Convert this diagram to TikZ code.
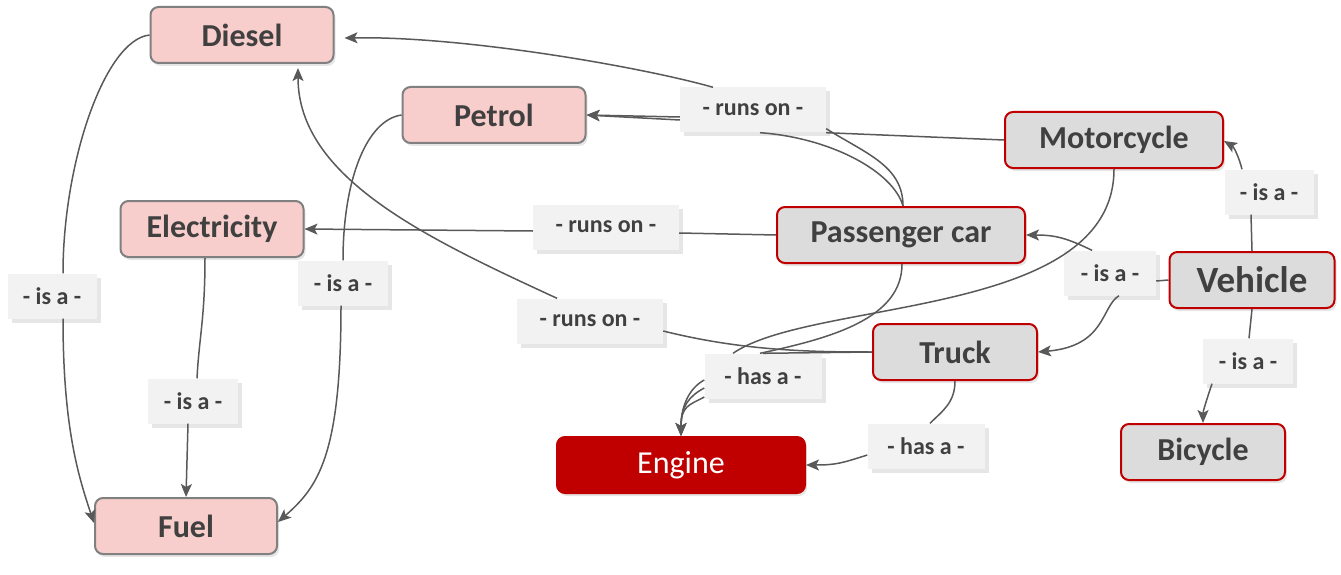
\documentclass[tikz,border=0pt]{standalone}
\usepackage{fontspec}
\setmainfont{Carlito}
\usetikzlibrary{arrows.meta,shadows}
\definecolor{pinkfill}{HTML}{F8CECC}
\definecolor{boxgray}{HTML}{DCDCDC}
\definecolor{darkred}{HTML}{C00000}
\definecolor{labelgray}{HTML}{F2F2F2}
\definecolor{linegray}{HTML}{595959}
\definecolor{textgray}{HTML}{404040}
\definecolor{bordergray}{HTML}{808080}

\begin{document}
\begin{tikzpicture}[x=1pt, y=-1pt,
    conceptbox/.style={rounded corners=8pt, line width=2pt, minimum height=56pt,
        text=textgray, font=\fontsize{32}{38}\selectfont\bfseries,
        drop shadow={shadow xshift=2pt, shadow yshift=-3pt, opacity=0.2}},
    fuelbox/.style={conceptbox, draw=bordergray, fill=pinkfill, minimum width=183pt},
    vehbox/.style={conceptbox, draw=darkred, fill=boxgray},
    relbox/.style={fill=labelgray, text=textgray, minimum height=45pt,
        font=\fontsize{24}{28}\selectfont\bfseries,
        drop shadow={shadow xshift=4pt, shadow yshift=-4pt, opacity=0.2}},
    link/.style={draw=linegray, line width=1.5pt},
    arr/.style={link, -{Stealth[length=13pt, width=11pt, inset=3pt]}}]
\useasboundingbox (0, 0) rectangle (1341, 575);

\node[fuelbox] (diesel) at (242, 35) {Diesel};
\node[fuelbox] (petrol) at (494, 115) {Petrol};
\node[fuelbox] (electricity) at (212, 229) {Electricity};
\node[fuelbox, minimum width=182pt] (fuel) at (186, 526) {Fuel};
\node[vehbox, minimum width=218pt] (motorcycle) at (1114, 140) {Motorcycle};
\node[vehbox, minimum width=248pt] (car) at (901, 235) {Passenger car};
\node[vehbox, minimum width=165pt, font=\fontsize{37}{44}\selectfont\bfseries] (vehicle) at (1252, 280) {Vehicle};
\node[vehbox, minimum width=164pt] (truck) at (955, 352) {Truck};
\node[vehbox, minimum width=164pt] (bicycle) at (1203, 452) {Bicycle};
\node[conceptbox, draw=darkred, fill=darkred, text=white, font=\fontsize{32}{38}\selectfont,
    minimum width=248pt] (engine) at (681, 465) {Engine};

\node[relbox, minimum width=89pt] (isaDiesel) at (52, 296) {- is a -};
\node[relbox, minimum width=90pt] (isaPetrol) at (343, 283) {- is a -};
\node[relbox, minimum width=90pt] (isaElec) at (193, 401) {- is a -};
\node[relbox, minimum width=146pt] (runsTop) at (753, 110) {- runs on -};
\node[relbox, minimum width=146pt] (runsMid) at (606, 227) {- runs on -};
\node[relbox, minimum width=146pt] (runsLow) at (590, 321) {- runs on -};
\node[relbox, minimum width=117pt] (hasTop) at (763, 376) {- has a -};
\node[relbox, minimum width=117pt] (hasLow) at (926, 446) {- has a -};
\node[relbox, minimum width=89pt] (isaMoto) at (1269, 192) {- is a -};
\node[relbox, minimum width=92pt] (isaCar) at (1110, 273) {- is a -};
\node[relbox, minimum width=90pt] (isaBike) at (1248, 361) {- is a -};

\draw[link] (diesel.west) .. controls +(-45, 5) and +(0, -110) .. ([xshift=11pt]isaDiesel.north);
\draw[arr] ([xshift=11pt]isaDiesel.south) .. controls +(0, 110) and +(-15, -45) .. ([yshift=3pt]fuel.west);
\draw[link] (petrol.west) .. controls +(-35, 5) and +(0, -80) .. (isaPetrol.north);
\draw[arr] ([xshift=-2pt]isaPetrol.south) .. controls +(0, 150) and +(40, -35) .. ([yshift=4pt]fuel.east);
\draw[link] ([xshift=-7pt]electricity.south) .. controls +(0, 60) and +(2, -40) .. ([xshift=4pt]isaElec.north);
\draw[arr] ([xshift=-5pt]isaElec.south) -- (fuel.north);

\draw[link] (motorcycle.west) -- (runsTop.south east);
\draw[link] ([xshift=2pt]car.north) .. controls +(0, -40) and +(40, 25) .. ([yshift=4pt]runsTop.south east);
\draw[link] ([xshift=2pt]car.north) .. controls +(-10, -35) and +(70, 5) .. ([xshift=7pt]runsTop.south);
\draw[arr] ([yshift=-7pt]runsTop.west) -- (petrol.east);
\draw[arr] ([yshift=-10pt]runsTop.west) -- (petrol.east);
\draw[arr] ([xshift=-40pt]runsTop.north) .. controls +(-70, -20) and +(120, -2) .. ([xshift=10pt, yshift=-3pt]diesel.east);

\draw[link] (car.west) -- ([yshift=-6pt]runsMid.east);
\draw[arr] ([yshift=-4pt]runsMid.west) -- (electricity.east);

\draw[link] ([yshift=-10pt]runsLow.east) .. controls +(80, 20) and +(-60, 0) .. (truck.west);
\draw[arr] ([xshift=-33pt]runsLow.north) .. controls +(-130, -60) and +(0, 110) .. ([xshift=56pt, yshift=-4pt]diesel.south);

\draw[link] ([xshift=1pt]car.south) .. controls +(0, 55) and +(70, -15) .. ([xshift=-3pt]hasTop.north);
\draw[link] (motorcycle.south) .. controls +(0, 150) and +(80, -55) .. ([xshift=-30pt]hasTop.north);
\draw[link] (hasTop.north) -- (truck.west);
\foreach \s in {-4, -12, -21}
    \draw[arr] ([yshift=\s pt]hasTop.west) .. controls +(-15, 8) and +(0, -30) .. (engine.north);
\draw[link] (truck.south) .. controls +(0, 22) and +(12, -12) .. ([xshift=4pt]hasLow.north);
\draw[arr] ([yshift=-9pt]hasLow.west) .. controls +(-25, 8) and +(30, 0) .. (engine.east);

\draw[link] (vehicle.west) -- ([yshift=-8pt]isaCar.east);
\draw[arr] ([xshift=-18pt]isaCar.north) .. controls +(-25, -12) and +(30, 0) .. (car.east);
\draw[arr] ([xshift=9pt]isaCar.south) .. controls +(-18, 11) and +(68, -6) .. (truck.east);
\draw[link] (vehicle.north) -- ([xshift=-18pt]isaMoto.south);
\draw[arr] ([xshift=-27pt]isaMoto.north) .. controls +(-3, -12) and +(10, 6) .. ([yshift=-1pt]motorcycle.east);
\draw[link] (vehicle.south) -- ([xshift=1pt]isaBike.north);
\draw[arr] ([xshift=-36pt]isaBike.south) .. controls +(-5, 15) and +(0, -12) .. (bicycle.north);
\end{tikzpicture}
\end{document}
